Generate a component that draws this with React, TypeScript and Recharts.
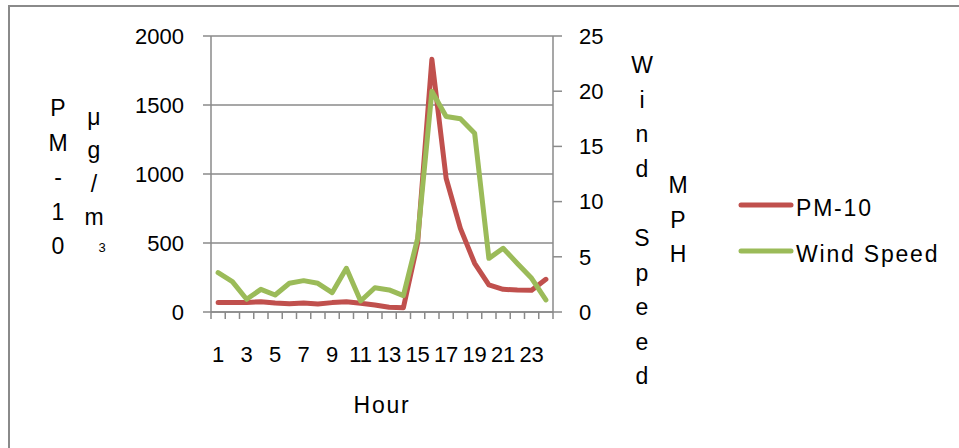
import React from 'react';
import { LineChart, Line, XAxis, YAxis, CartesianGrid, Legend } from 'recharts';

const hours = ['1', '2', '3', '4', '5', '6', '7', '8', '9', '10', '11', '12', '13', '14', '15', '16', '17', '18', '19', '20', '21', '22', '23', '24'];
const pm10 = [68, 68, 68, 75, 65, 60, 65, 58, 68, 75, 63, 51, 34, 31, 500, 1831, 969, 606, 353, 196, 164, 159, 157, 237];
const windSpeed = [3.56, 2.75, 1.15, 2.05, 1.54, 2.6, 2.84, 2.6, 1.75, 3.96, 1.0, 2.2, 2.0, 1.48, 6.67, 20.0, 17.7, 17.5, 16.2, 4.86, 5.77, 4.4, 3.05, 1.09];
const leftTicks = [0, 500, 1000, 1500, 2000];
const rightTicks = [0, 5, 10, 15, 20, 25];
const shownHourLabels = ['1', '3', '5', '7', '9', '11', '13', '15', '17', '19', '21', '23'];
const leftTitleCol1 = ['P', 'M', '-', '1', '0'];
const leftTitleCol2 = ['μ', 'g', '/', 'm'];
const leftTitleSup = '3';
const rightTitleCol1 = ['W', 'i', 'n', 'd', '', 'S', 'p', 'e', 'e', 'd'];
const rightTitleCol2 = ['M', 'P', 'H'];
const seriesNames = ['PM-10', 'Wind Speed'];

const data = hours.map((h, i) => ({ hour: h, pm10: pm10[i], wind: windSpeed[i] }));

const FONT = '"Liberation Sans", Arial, sans-serif';
const GRAY = '#8a8a8a';
const RED = '#C0504D';
const GREEN = '#9BBB59';

const XTick = (props: any) => {
  const { x, payload } = props;
  const half = 7.125;
  const show = shownHourLabels.includes(String(payload.value));
  const isLast = String(payload.value) === hours[hours.length - 1];
  return (
    <g>
      <line x1={x - half} y1={312} x2={x - half} y2={319} stroke={GRAY} strokeWidth={1.5} />
      {isLast && <line x1={x + half} y1={312} x2={x + half} y2={319} stroke={GRAY} strokeWidth={1.5} />}
      {show && (
        <text x={x} y={362} textAnchor="middle" fontSize={22} fontFamily={FONT} fill="#000">
          {payload.value}
        </text>
      )}
    </g>
  );
};

const LeftTitle = () => (
  <g fontFamily={FONT} fill="#000">
    {leftTitleCol1.map((c, i) => (
      <text key={'a' + i} x={58} y={116 + i * 34.5} textAnchor="middle" fontSize={23}>{c}</text>
    ))}
    {leftTitleCol2.map((c, i) => (
      <text key={'b' + i} x={94} y={124.5 + i * 33.5} textAnchor="middle" fontSize={23}>{c}</text>
    ))}
    <text x={102} y={252} textAnchor="middle" fontSize={13}>{leftTitleSup}</text>
  </g>
);

const RightTitle = () => (
  <g fontFamily={FONT} fill="#000">
    {rightTitleCol1.map((c, i) => (
      <text key={'a' + i} x={642} y={73 + i * 34.6} textAnchor="middle" fontSize={23}>{c}</text>
    ))}
    {rightTitleCol2.map((c, i) => (
      <text key={'b' + i} x={678} y={193 + i * 34.5} textAnchor="middle" fontSize={23}>{c}</text>
    ))}
  </g>
);

const HourTitle = () => (
  <text x={382} y={413} textAnchor="middle" fontSize={23} letterSpacing={1.8} fontFamily={FONT} fill="#000">
    Hour
  </text>
);

const LegendBox = () => (
  <svg width={220} height={90} style={{ display: 'block' }}>
    {[RED, GREEN].map((col, i) => (
      <g key={i}>
        <line x1={5} y1={25 + i * 46} x2={55} y2={25 + i * 46} stroke={col} strokeWidth={5} strokeLinecap="round" />
        <text x={60} y={36 + i * 46} fontSize={23} letterSpacing={1.8} fontFamily={FONT} fill="#000">
          {seriesNames[i]}
        </text>
      </g>
    ))}
  </svg>
);

export default function App() {
  return (
    <div style={{ position: 'absolute', left: 0, top: 0, width: 959, height: 448, background: '#fff' }}>
      <div
        style={{
          position: 'absolute',
          left: 8,
          top: 5,
          width: 959,
          height: 448,
          borderTop: `2px solid ${GRAY}`,
          borderLeft: `2px solid ${GRAY}`,
          boxSizing: 'border-box',
        }}
      />
      <div style={{ position: 'absolute', left: 0, top: 0 }}>
        <LineChart width={959} height={448} data={data} margin={{ top: 36, right: 0, bottom: 0, left: 0 }}>
          <CartesianGrid yAxisId="left" vertical={false} stroke={GRAY} strokeWidth={1.5} />
          <XAxis
            dataKey="hour"
            interval={0}
            height={136}
            padding={{ left: 7.125, right: 7.125 }}
            tickLine={false}
            axisLine={{ stroke: GRAY, strokeWidth: 1.5 }}
            tick={<XTick />}
            label={{ content: () => <HourTitle /> }}
          />
          <YAxis
            yAxisId="left"
            orientation="left"
            width={211}
            domain={[0, 2000]}
            ticks={leftTicks}
            interval={0}
            tickSize={8}
            tickMargin={19}
            axisLine={{ stroke: GRAY, strokeWidth: 1.5 }}
            tickLine={{ stroke: GRAY, strokeWidth: 1.5 }}
            tick={{ fontSize: 22, fontFamily: FONT, fill: '#000' }}
            label={{ content: () => <LeftTitle /> }}
          />
          <YAxis
            yAxisId="right"
            orientation="right"
            width={406}
            domain={[0, 25]}
            ticks={rightTicks}
            interval={0}
            tickSize={9}
            tickMargin={17}
            axisLine={{ stroke: GRAY, strokeWidth: 1.5 }}
            tickLine={{ stroke: GRAY, strokeWidth: 1.5 }}
            tick={{ fontSize: 22, fontFamily: FONT, fill: '#000', textAnchor: 'start' }}
            label={{ content: () => <RightTitle /> }}
          />
          <Legend
            layout="horizontal"
            verticalAlign="middle"
            align="center"
            wrapperStyle={{ left: 736, top: 180, width: 220, height: 90 }}
            content={() => <LegendBox />}
          />
          <Line
            yAxisId="left"
            type="linear"
            dataKey="pm10"
            name="PM-10"
            stroke={RED}
            strokeWidth={5}
            strokeLinecap="round"
            strokeLinejoin="round"
            dot={false}
            isAnimationActive={false}
          />
          <Line
            yAxisId="right"
            type="linear"
            dataKey="wind"
            name="Wind Speed"
            stroke={GREEN}
            strokeWidth={5}
            strokeLinecap="round"
            strokeLinejoin="round"
            dot={false}
            isAnimationActive={false}
          />
        </LineChart>
      </div>
    </div>
  );
}
